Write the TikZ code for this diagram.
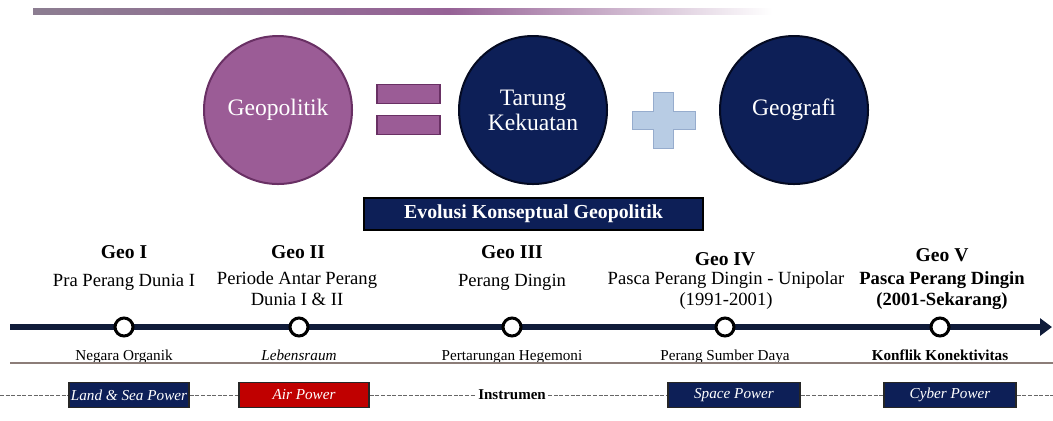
\documentclass[tikz,border=0pt]{standalone}
\usepackage{fontspec}
\setmainfont{Liberation Serif}
\usepackage{tikz}
\usetikzlibrary{positioning}
\usetikzlibrary{arrows.meta}
\definecolor{geopurple}{RGB}{155,92,150}
\definecolor{geopurpledark}{RGB}{105,48,100}
\definecolor{barpurple}{RGB}{150,98,150}
\definecolor{bargray}{RGB}{140,125,145}
\definecolor{navy}{RGB}{13,31,87}
\definecolor{navydark}{RGB}{4,10,34}
\definecolor{plusblue}{RGB}{184,204,228}
\definecolor{plusbluedark}{RGB}{150,172,205}
\definecolor{lineblue}{RGB}{16,28,58}
\definecolor{powerred}{RGB}{192,0,0}
\definecolor{rulebrown}{RGB}{140,125,120}

\begin{document}
\begin{tikzpicture}[x=0.5pt,y=-0.5pt,
	bigcirc/.style={circle,minimum size=74pt,inner sep=0pt,line width=1pt,text=white,align=center,font=\fontsize{11.8}{12.5}\selectfont},
	eqbar/.style={rectangle,fill=geopurple,draw=geopurpledark,line width=0.8pt,minimum width=31.5pt,minimum height=9.5pt,inner sep=0pt},
	era/.style={font=\fontsize{9.8}{10}\selectfont\bfseries},
	period/.style={align=center,font=\fontsize{9.3}{10.2}\selectfont},
	dot/.style={circle,draw=black,fill=white,line width=1.5pt,minimum size=9pt,inner sep=0pt},
	note/.style={anchor=north,inner sep=1pt,text height=1.5ex,text depth=.35ex,font=\fontsize{7.6}{8}\selectfont},
	power/.style={rectangle,draw=black!85,line width=0.8pt,text=white,minimum height=12.5pt,inner sep=0pt,font=\fontsize{7.6}{8}\selectfont\itshape},
	dashline/.style={draw=black!60,line width=0.4pt,dash pattern=on 2pt off 0.8pt}]
	\useasboundingbox (0,0) rectangle (1053,420);
	\fill[left color=bargray,right color=barpurple] (33,8) rectangle (450,14);
	\fill[left color=barpurple,right color=white] (449,8) rectangle (772,14);
	\node[bigcirc,fill=geopurple,draw=geopurpledark] (geopolitik) at (278,110) {Geopolitik};
	\node[eqbar] (eqa) at (408.5,94) {};
	\node[eqbar] (eqb) at (408.5,125) {};
	\node[bigcirc,fill=navy,draw=navydark] (tarung) at (533,110) {Tarung\\Kekuatan};
	\fill[plusblue,draw=plusbluedark,line width=0.5pt] (653,92) -- (673,92) -- (673,111) -- (695,111) -- (695,129) -- (673,129) -- (673,148) -- (653,148) -- (653,129) -- (632,129) -- (632,111) -- (653,111) -- cycle;
	\node[bigcirc,fill=navy,draw=navydark] (geografi) at (794,110) {Geografi};
	\node[rectangle,fill=navy,draw=black,line width=1pt,minimum width=169.5pt,minimum height=16pt,text=white,font=\fontsize{9.9}{10}\selectfont\bfseries] (evolusi) at (533.5,214) {Evolusi Konseptual Geopolitik};
	\node[era] (geo1) at (124,252) {Geo I};
	\node[period] (per1) at (124,282) {Pra Perang Dunia I};
	\node[era] (geo2) at (298,252) {Geo II};
	\node[period] (per2) at (297,288.5) {Periode Antar Perang\\Dunia I \& II};
	\node[era] (geo3) at (512,252) {Geo III};
	\node[period] (per3) at (512,282) {Perang Dingin};
	\node[era] (geo4) at (725,259) {Geo IV};
	\node[period] (per4) at (726,290.5) {Pasca Perang Dingin - Unipolar\\(1991-2001)};
	\node[era] (geo5) at (942,255) {Geo V};
	\node[period,font=\fontsize{9.3}{10.2}\selectfont\bfseries] (per5) at (942,290.5) {Pasca Perang Dingin\\(2001-Sekarang)};
	\coordinate (tl0) at (10,327);
	\coordinate (tl1) at (1052,327);
	\draw[lineblue,line width=3.2pt,-{Triangle[length=6pt,width=8.5pt]}] (tl0) -- (tl1);
	\node[dot] (g1) at (124,327) {};
	\node[dot] (g2) at (299,327) {};
	\node[dot] (g3) at (512,327) {};
	\node[dot] (g4) at (725,327) {};
	\node[dot] (g5) at (940,327) {};
	\node[note,below=3.5pt of g1] (n1) {Negara Organik};
	\node[note,below=3.5pt of g2,font=\fontsize{7.6}{8}\selectfont\itshape] (n2) {Lebensraum};
	\node[note,below=3.5pt of g3] (n3) {Pertarungan Hegemoni};
	\node[note,below=3.5pt of g4] (n4) {Perang Sumber Daya};
	\node[note,below=3.5pt of g5,font=\fontsize{7.6}{8}\selectfont\bfseries] (n5) {Konflik Konektivitas};
	\coordinate (r0) at (10,363);
	\coordinate (r1) at (1053,363);
	\draw[rulebrown,line width=1pt] (r0) -- (r1);
	\node[power,fill=navy,minimum width=60pt] (land) at (129,395) {Land \& Sea Power};
	\node[power,fill=powerred,minimum width=65pt] (air) at (304,395) {Air Power};
	\node[inner sep=1pt,font=\fontsize{7.5}{8}\selectfont\bfseries] (instr) at (512,395) {Instrumen};
	\node[power,fill=navy,minimum width=66pt] (space) at (734,395) {Space Power};
	\node[power,fill=navy,minimum width=66pt] (cyber) at (950,395) {Cyber Power};
	\coordinate (d0) at (0,395);
	\coordinate (d1) at (1053,395);
	\path[dashline]
	(d0) edge (land)
	(land) edge (air)
	(air) edge (instr)
	(instr) edge (space)
	(space) edge (cyber)
	(cyber) edge (d1)
	;
\end{tikzpicture}
\end{document}
